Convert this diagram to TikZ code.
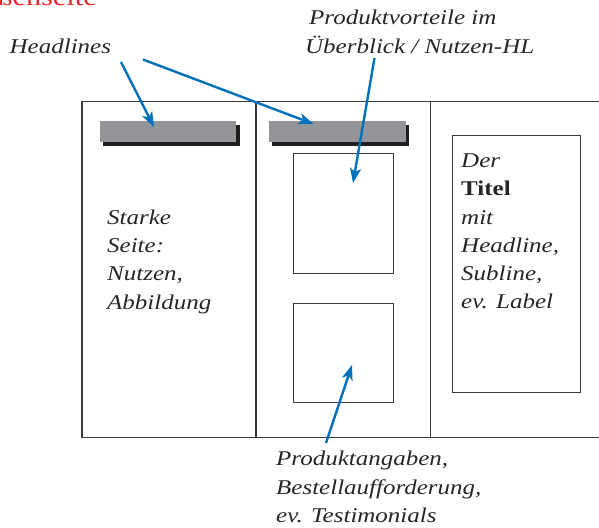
\documentclass[tikz,border=0pt]{standalone}
\usepackage{fontspec}
\setmainfont{Liberation Serif}[FakeStretch=1.19]
\usetikzlibrary{arrows.meta}
\definecolor{frameline}{HTML}{3A3A3A}
\definecolor{barfill}{HTML}{939598}
\definecolor{arrowblue}{HTML}{0071BC}
\definecolor{titlered}{HTML}{E8262C}
\tikzset{
  panel/.style={draw=frameline, line width=1.1pt},
  inner box/.style={draw=frameline, line width=1pt},
  headbar/.style={fill=barfill},
  barshadow/.style={fill=black!88},
  pointer/.style={draw=arrowblue, line width=2.4pt,
    -{Stealth[length=15pt,width=11pt,inset=4pt]}},
  txt/.style={anchor=base west, inner sep=0pt, font=\fontsize{21}{28}\selectfont\itshape, text=black!85},
}
\begin{document}
\begin{tikzpicture}[x=1pt,y=-1pt]
\useasboundingbox (0,0) rectangle (599,527);

% folded sheet: three panels
\draw[panel] (82,101.5) rectangle (610,437.5);
\draw[panel] (256,101.5) -- (256,437.5);
\draw[panel] (430.5,101.5) -- (430.5,437.5);

% headline bars with drop shadow
\fill[barshadow] (103,125) rectangle (240,145.5);
\node[headbar, inner sep=0pt, minimum width=136pt, minimum height=21pt, anchor=north west] (barL) at (100,121) {};
\fill[barshadow] (272,125) rectangle (409,145.5);
\node[headbar, inner sep=0pt, minimum width=136.5pt, minimum height=21pt, anchor=north west] (barM) at (269,121) {};

% picture boxes in the middle panel
\draw[inner box] (293.3,153.3) rectangle (393.3,273.5);
\draw[inner box] (293.3,303) rectangle (393.3,402.5);
% title box in the right panel
\draw[inner box] (452.3,135.7) rectangle (580.5,392.5);

% heading running off the top edge
\node[anchor=base east, inner sep=0pt, font=\fontsize{25.5}{30}\selectfont, text=titlered] (head) at (97,6) {Außenseite};

% labels
\node[txt] (hl) at (9.5,54) {Headlines};
\node[txt] (pv1) at (309,25) {Produktvorteile im};
\node[txt] (pv2) at (305,53) {Überblick / Nutzen-HL};

\node[txt] (s1) at (107,224) {Starke};
\node[txt] (s2) at (107,252.5) {Seite:};
\node[txt] (s3) at (107,280.5) {Nutzen,};
\node[txt] (s4) at (107,309) {Abbildung};

\node[txt] (t1) at (461,167) {Der};
\node[txt, font=\fontsize{21}{28}\selectfont\bfseries] (t2) at (461,195) {Titel};
\node[txt] (t3) at (461,224) {mit};
\node[txt] (t4) at (461,252.5) {Headline,};
\node[txt] (t5) at (461,280.5) {Subline,};
\node[txt] (t6) at (461,308.5) {ev. Label};

\node[txt] (b1) at (276,465.5) {Produktangaben,};
\node[txt] (b2) at (276,494) {Bestellaufforderung,};
\node[txt] (b3) at (276,522) {ev. Testimonials};

% arrow ends
\coordinate (hlA) at (121,62);
\coordinate (hlB) at (143,59.5);
\coordinate (pvA) at (374.5,58);
\coordinate (bA) at (326,443);
\coordinate (tipL) at (154,127);
\coordinate (tipM) at (313.5,124);
\coordinate (tipU) at (353,183);
\coordinate (tipD) at (352,365);

\draw[pointer] (hlA) -- (tipL);
\draw[pointer] (hlB) -- (tipM);
\draw[pointer] (pvA) -- (tipU);
\draw[pointer] (bA) -- (tipD);
\end{tikzpicture}
\end{document}
